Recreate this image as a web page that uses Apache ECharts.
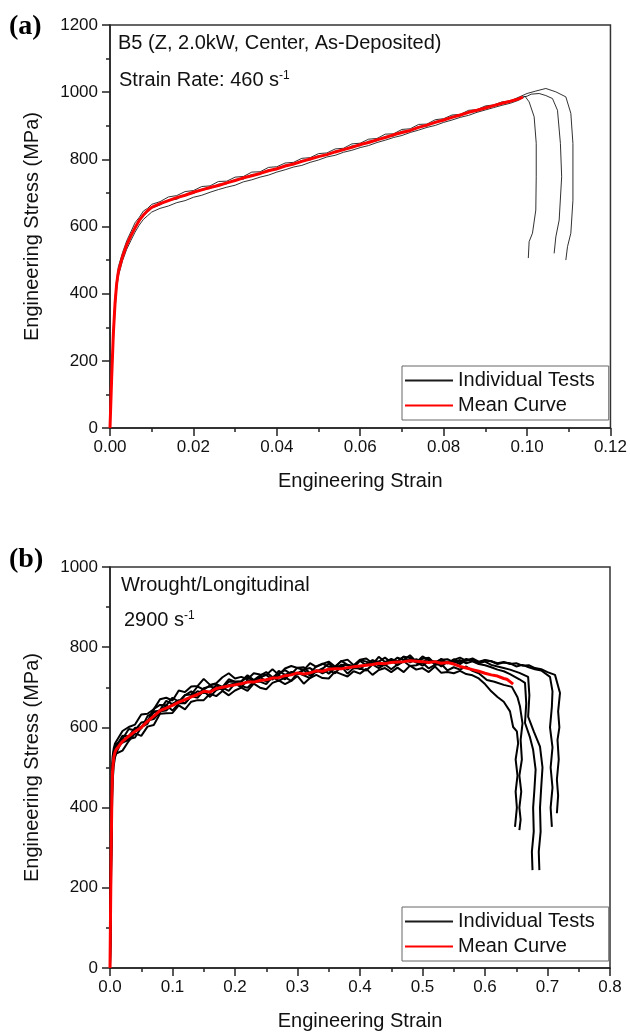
<!DOCTYPE html>
<html>
<head>
	<title>Engineering Stress-Strain</title>
	<meta charset="utf-8">
	<script src="https://cdn.jsdelivr.net/npm/echarts@6/dist/echarts.min.js"></script>
	<style type="text/css">
		html, body { margin: 0; padding: 0; background: #fff; }
		#main { width: 630px; height: 1035px; }
	</style>
</head>
<body>
	<div id="main"></div>
	<script type="text/javascript">
		// ---- panel (a): B5, 460 s-1 ----
		var strainA = [0, 0.0004, 0.0008, 0.0012, 0.0016, 0.002, 0.003, 0.004, 0.005, 0.006, 0.007, 0.008, 0.009, 0.010,
			0.012, 0.014, 0.016, 0.018, 0.020, 0.022, 0.024, 0.026, 0.028, 0.030, 0.032,
			0.034, 0.036, 0.038, 0.040, 0.042, 0.044, 0.046, 0.048, 0.050, 0.052, 0.054,
			0.056, 0.058, 0.060, 0.062, 0.064, 0.066, 0.068, 0.070, 0.072, 0.074, 0.076,
			0.078, 0.080, 0.082, 0.084, 0.086, 0.088, 0.090, 0.092, 0.094, 0.096, 0.098];
		var meanA = [0, 150, 280, 370, 430, 465, 510, 545, 572, 596, 618, 634, 647, 657,
			668, 677, 686, 693, 702, 709, 716, 722, 730, 737, 745,
			751, 758, 766, 772, 780, 786, 794, 801, 808, 814, 822,
			829, 836, 844, 850, 858, 865, 873, 880, 886, 895, 902,
			910, 917, 925, 932, 940, 946, 953, 960, 967, 973, 980];
		var meanATail = [[0.099, 985]];
		var testA1 = [0, 170, 300, 388, 442, 480, 522, 557, 584, 611, 627, 646, 654, 666,
			674, 688, 692, 704, 707, 719, 721, 734, 735, 747, 749,
			762, 763, 776, 778, 789, 791, 803, 805, 817, 819, 831,
			833, 846, 848, 860, 862, 875, 876, 889, 891, 904, 905,
			918, 921, 932, 934, 946, 948, 959, 962, 971, 974, 985];
		var testA1Tail = [[0.100, 996], [0.102, 1003], [0.1045, 1011], [0.1069, 1001], [0.1093, 986], [0.1105, 937],
			[0.1110, 847], [0.1110, 678], [0.1105, 580], [0.1097, 540], [0.1093, 500]];
		var testA2 = [0, 130, 255, 350, 415, 452, 498, 532, 558, 583, 604, 621, 632, 643,
			654, 661, 671, 677, 687, 693, 702, 710, 717, 723, 733,
			739, 747, 753, 762, 769, 777, 782, 791, 798, 807, 812,
			821, 827, 835, 841, 850, 857, 865, 871, 880, 887, 895,
			901, 910, 917, 925, 931, 940, 947, 954, 961, 967, 976];
		var testA2Tail = [[0.0995, 988], [0.1005, 971], [0.1017, 927], [0.1022, 848], [0.1022, 748], [0.1021, 649],
			[0.1013, 580], [0.1005, 555], [0.1003, 506]];
		var testA3 = [0, 155, 285, 372, 428, 462, 508, 543, 568, 594, 615, 632, 644, 655,
			664, 678, 681, 695, 698, 711, 713, 726, 727, 740, 741,
			755, 755, 769, 769, 783, 784, 797, 798, 811, 812, 825,
			826, 840, 840, 854, 855, 868, 869, 884, 884, 898, 899,
			913, 915, 928, 929, 942, 944, 956, 958, 969, 971, 983];
		var testA3Tail = [[0.100, 988], [0.101, 994], [0.1029, 996], [0.1045, 990], [0.1061, 981], [0.1073, 946],
			[0.1080, 847], [0.1083, 748], [0.1077, 619], [0.1069, 569], [0.1065, 520]];

		// ---- panel (b): wrought, 2900 s-1 ----
		var strainB = [0, 0.001, 0.002, 0.003, 0.004, 0.006, 0.008,
			0.01, 0.02, 0.03, 0.04, 0.05, 0.06, 0.07, 0.08, 0.09, 0.10,
			0.11, 0.12, 0.13, 0.14, 0.15, 0.16, 0.17, 0.18, 0.19, 0.20,
			0.21, 0.22, 0.23, 0.24, 0.25, 0.26, 0.27, 0.28, 0.29, 0.30,
			0.31, 0.32, 0.33, 0.34, 0.35, 0.36, 0.37, 0.38, 0.39, 0.40,
			0.41, 0.42, 0.43, 0.44, 0.45, 0.46, 0.47, 0.48, 0.49, 0.50,
			0.51, 0.52, 0.53, 0.54];
		var testB1 = [0, 120, 260, 380, 460, 505, 525,
			535, 542, 566, 585, 579, 602, 606, 634, 635, 636,
			655, 645, 664, 668, 668, 684, 678, 691, 680, 692,
			699, 691, 709, 699, 695, 711, 717, 708, 716, 728,
			709, 723, 731, 723, 722, 739, 733, 727, 740, 734,
			746, 731, 743, 748, 738, 749, 738, 754, 744, 748,
			738, 752, 736, 738];
		var testB1Tail = [[0.55, 735], [0.56, 741], [0.57, 733], [0.58, 730], [0.59, 722], [0.60, 708], [0.61, 690],
			[0.62, 676], [0.63, 664], [0.64, 640], [0.645, 601], [0.651, 590], [0.653, 560], [0.649, 520],
			[0.652, 480], [0.649, 440], [0.651, 400], [0.648, 352]];
		var testB2 = [10, 150, 300, 420, 490, 520, 530,
			534, 569, 571, 575, 600, 617, 621, 638, 655, 642,
			660, 660, 678, 674, 691, 676, 693, 699, 691, 710,
			703, 699, 714, 714, 708, 726, 716, 725, 716, 736,
			730, 723, 743, 735, 743, 735, 752, 734, 748, 747,
			742, 757, 748, 757, 745, 757, 765, 753, 755, 761,
			747, 756, 758, 742];
		var testB2Tail = [[0.55, 750], [0.56, 744], [0.57, 752], [0.58, 741], [0.59, 735], [0.603, 718], [0.615, 714],
			[0.63, 706], [0.643, 701], [0.652, 675], [0.656, 652], [0.660, 610], [0.657, 569], [0.659, 520],
			[0.655, 480], [0.658, 440], [0.655, 400], [0.657, 370], [0.655, 344]];
		var testB3 = [0, 180, 330, 450, 510, 540, 552,
			558, 571, 596, 593, 612, 615, 646, 656, 655, 674,
			664, 681, 682, 702, 694, 705, 708, 701, 720, 714,
			715, 730, 718, 729, 738, 725, 735, 743, 733, 749,
			750, 735, 752, 759, 751, 750, 766, 756, 753, 768,
			764, 757, 776, 763, 771, 764, 776, 774, 762, 777,
			768, 763, 769, 770];
		var testB3Tail = [[0.55, 762], [0.56, 768], [0.57, 760], [0.58, 765], [0.59, 758], [0.60, 755], [0.61, 750],
			[0.62, 744], [0.63, 740], [0.64, 733], [0.655, 720], [0.664, 711], [0.666, 660], [0.664, 611],
			[0.672, 575], [0.677, 544], [0.681, 495], [0.679, 444], [0.677, 400], [0.678, 340], [0.675, 290], [0.676, 244]];
		var testB4 = [20, 200, 360, 470, 525, 548, 560,
			558, 591, 601, 607, 632, 634, 645, 670, 674, 667,
			692, 688, 702, 703, 721, 706, 710, 725, 735, 722,
			726, 720, 735, 732, 731, 745, 731, 747, 753, 748,
			743, 760, 751, 758, 764, 752, 765, 769, 755, 769,
			772, 760, 764, 774, 762, 774, 768, 780, 764, 771,
			774, 759, 771, 760];
		var testB4Tail = [[0.55, 770], [0.56, 762], [0.57, 771], [0.58, 766], [0.59, 760], [0.60, 764], [0.61, 756],
			[0.62, 752], [0.63, 748], [0.64, 744], [0.655, 736], [0.669, 726], [0.671, 680], [0.669, 627],
			[0.678, 590], [0.688, 552], [0.692, 500], [0.690, 452], [0.688, 400], [0.689, 340], [0.686, 290], [0.687, 244]];
		var testB5 = [0, 140, 290, 410, 480, 530, 545,
			552, 562, 569, 595, 601, 609, 640, 640, 642, 659,
			668, 660, 678, 690, 686, 689, 705, 693, 705, 710,
			700, 718, 711, 726, 714, 723, 729, 720, 738, 733,
			743, 729, 739, 747, 734, 748, 755, 744, 756, 745,
			758, 768, 754, 757, 768, 755, 765, 771, 762, 754,
			766, 764, 752, 764];
		var testB5Tail = [[0.55, 765], [0.56, 758], [0.57, 768], [0.58, 770], [0.59, 762], [0.60, 767], [0.61, 765],
			[0.62, 758], [0.63, 762], [0.64, 760], [0.65, 752], [0.66, 756], [0.67, 750], [0.68, 745], [0.69, 742],
			[0.704, 726], [0.708, 690], [0.707, 652], [0.704, 600], [0.708, 550], [0.705, 500], [0.708, 450],
			[0.705, 400], [0.707, 352]];
		var testB6 = [10, 170, 320, 440, 500, 535, 548,
			549, 579, 578, 599, 597, 628, 637, 643, 666, 658,
			661, 680, 690, 680, 698, 702, 698, 696, 714, 714,
			714, 726, 713, 724, 731, 719, 741, 731, 738, 735,
			744, 748, 738, 746, 759, 746, 756, 755, 749, 766,
			755, 767, 764, 754, 769, 765, 777, 762, 770, 763,
			772, 756, 765, 760];
		var testB6Tail = [[0.55, 768], [0.56, 774], [0.57, 766], [0.58, 772], [0.59, 764], [0.60, 768], [0.61, 765],
			[0.62, 760], [0.63, 763], [0.64, 758], [0.65, 760], [0.66, 754], [0.67, 755], [0.68, 748], [0.69, 745],
			[0.70, 738], [0.712, 731], [0.72, 686], [0.717, 640], [0.719, 600], [0.716, 569], [0.718, 520],
			[0.715, 470], [0.717, 430], [0.715, 386]];
		var strainMeanB = [0, 0.001, 0.002, 0.003, 0.004, 0.006, 0.008, 0.01, 0.02, 0.03, 0.04, 0.05, 0.06, 0.07,
			0.08, 0.09, 0.10, 0.11, 0.12, 0.13, 0.14, 0.15, 0.16, 0.17, 0.18, 0.19, 0.20, 0.21, 0.22, 0.23,
			0.24, 0.25, 0.26, 0.27, 0.28, 0.29, 0.30, 0.31, 0.32, 0.33, 0.34, 0.35, 0.36, 0.37, 0.38, 0.39,
			0.40, 0.41, 0.42, 0.43, 0.44, 0.45, 0.46, 0.47, 0.48, 0.49, 0.50, 0.51, 0.52, 0.53, 0.54, 0.55,
			0.56, 0.57, 0.58, 0.59, 0.60, 0.61, 0.62, 0.63, 0.635, 0.64, 0.645];
		var meanB = [0, 160, 310, 425, 490, 525, 538, 545, 565, 578, 590, 600, 615, 628,
			642, 648, 655, 663, 669, 676, 682, 690, 688, 697, 700, 703, 706, 709, 713, 713,
			717, 719, 723, 724, 729, 731, 736, 733, 736, 741, 740, 745, 746, 746, 749, 751,
			753, 755, 757, 760, 759, 762, 763, 764, 766, 765, 764, 762, 764, 760, 762, 758,
			752, 748, 744, 740, 735, 731, 728, 722, 720, 714, 708];

		var legendNames = ['Individual Tests', 'Mean Curve'];
		var fontSans = 'Liberation Sans, Arial, sans-serif';

		function pairs(xs, ys, tail){
			var out = [];
			for(var i = 0; i < ys.length; i++){
				out.push([xs[i], ys[i]]);
			}
			return out.concat(tail || []);
		}

		function lineSeries(name, data, xi, color, width, z){
			return {
				name: name,
				type: 'line',
				xAxisIndex: xi,
				yAxisIndex: xi,
				data: data,
				symbol: 'none',
				showSymbol: false,
				smooth: false,
				z: z,
				lineStyle: { color: color, width: width },
				itemStyle: { color: color }
			};
		}

		function xAxisFor(idx, max, step, digits){
			return {
				gridIndex: idx,
				type: 'value',
				min: 0,
				max: max,
				interval: step,
				name: 'Engineering Strain',
				nameLocation: 'middle',
				nameGap: 43,
				nameTextStyle: { fontFamily: fontSans, fontSize: 20, color: '#111' },
				axisLine: { show: true, onZero: false, lineStyle: { color: '#222', width: 1.5 } },
				axisTick: { show: true, length: 8, lineStyle: { color: '#222', width: 1.5 } },
				minorTick: { show: true, splitNumber: 2, length: 4, lineStyle: { color: '#222', width: 1.5 } },
				splitLine: { show: false },
				axisLabel: {
					margin: 11, fontFamily: fontSans, fontSize: 17, color: '#111',
					formatter: function(v){ return v.toFixed(digits); }
				}
			};
		}

		function yAxisFor(idx, max){
			return {
				gridIndex: idx,
				type: 'value',
				min: 0,
				max: max,
				interval: 200,
				name: 'Engineering Stress (MPa)',
				nameLocation: 'middle',
				nameGap: 68,
				nameTextStyle: { fontFamily: fontSans, fontSize: 20, color: '#111' },
				axisLine: { show: true, onZero: false, lineStyle: { color: '#222', width: 1.5 } },
				axisTick: { show: true, length: 8, lineStyle: { color: '#222', width: 1.5 } },
				minorTick: { show: true, splitNumber: 2, length: 4, lineStyle: { color: '#222', width: 1.5 } },
				splitLine: { show: false },
				axisLabel: {
					margin: 12, fontFamily: fontSans, fontSize: 17, color: '#111',
					formatter: function(v){ return String(v); }
				}
			};
		}

		function note(text, left, top){
			return {
				text: text,
				left: left,
				top: top,
				padding: 0,
				textStyle: {
					fontFamily: fontSans, fontSize: 20, fontWeight: 'normal', color: '#111',
					rich: { sup: { fontFamily: fontSans, fontSize: 12, color: '#111', verticalAlign: 'top' } }
				}
			};
		}

		function legendAt(top){
			return {
				data: legendNames,
				orient: 'vertical',
				left: 402,
				top: top,
				width: 205,
				padding: [3, 14, 3, 2],
				itemGap: 2,
				itemWidth: 48,
				itemHeight: 14,
				selectedMode: false,
				borderColor: '#666',
				borderWidth: 1,
				backgroundColor: '#fff',
				itemStyle: { opacity: 0 },
				textStyle: { fontFamily: fontSans, fontSize: 20, color: '#111', lineHeight: 23 }
			};
		}

		var myChart = echarts.init(document.getElementById('main'));
		var option = {
			animation: false,
			backgroundColor: '#fff',
			title: [
				{ text: '(a)', left: 9, top: 13, padding: 0,
					textStyle: { fontFamily: 'Liberation Serif, Times New Roman, serif', fontWeight: 'bold', fontSize: 28, color: '#000' } },
				{ text: '(b)', left: 9, top: 546, padding: 0,
					textStyle: { fontFamily: 'Liberation Serif, Times New Roman, serif', fontWeight: 'bold', fontSize: 28, color: '#000' } },
				note('B5 (Z, 2.0kW, Center, As-Deposited)', 118, 33),
				note('Strain Rate: 460 s{sup|-1}', 119, 70),
				note('Wrought/Longitudinal', 121, 575),
				note('2900 s{sup|-1}', 124, 610)
			],
			grid: [
				{ left: 110, top: 25, width: 502, height: 403, show: true, borderColor: '#333', borderWidth: 1.5 },
				{ left: 110, top: 567, width: 500, height: 401, show: true, borderColor: '#333', borderWidth: 1.5 }
			],
			legend: [legendAt(366), legendAt(907)],
			xAxis: [xAxisFor(0, 0.12, 0.02, 2), xAxisFor(1, 0.8, 0.1, 1)],
			yAxis: [yAxisFor(0, 1200), yAxisFor(1, 1000)],
			series: [
				lineSeries('Individual Tests', pairs(strainA, testA1, testA1Tail), 0, '#1a1a1a', 0.9, 2),
				lineSeries('Individual Tests', pairs(strainA, testA2, testA2Tail), 0, '#1a1a1a', 0.9, 2),
				lineSeries('Individual Tests', pairs(strainA, testA3, testA3Tail), 0, '#1a1a1a', 0.9, 2),
				lineSeries('Mean Curve', pairs(strainA, meanA, meanATail), 0, '#ff0000', 3, 3),
				lineSeries('Individual Tests', pairs(strainB, testB1, testB1Tail), 1, '#000', 2, 2),
				lineSeries('Individual Tests', pairs(strainB, testB2, testB2Tail), 1, '#000', 2, 2),
				lineSeries('Individual Tests', pairs(strainB, testB3, testB3Tail), 1, '#000', 2, 2),
				lineSeries('Individual Tests', pairs(strainB, testB4, testB4Tail), 1, '#000', 2, 2),
				lineSeries('Individual Tests', pairs(strainB, testB5, testB5Tail), 1, '#000', 2, 2),
				lineSeries('Individual Tests', pairs(strainB, testB6, testB6Tail), 1, '#000', 2, 2),
				lineSeries('Mean Curve', pairs(strainMeanB, meanB), 1, '#ff0000', 3, 3)
			]
		};
		myChart.setOption(option);
	</script>
</body>
</html>
